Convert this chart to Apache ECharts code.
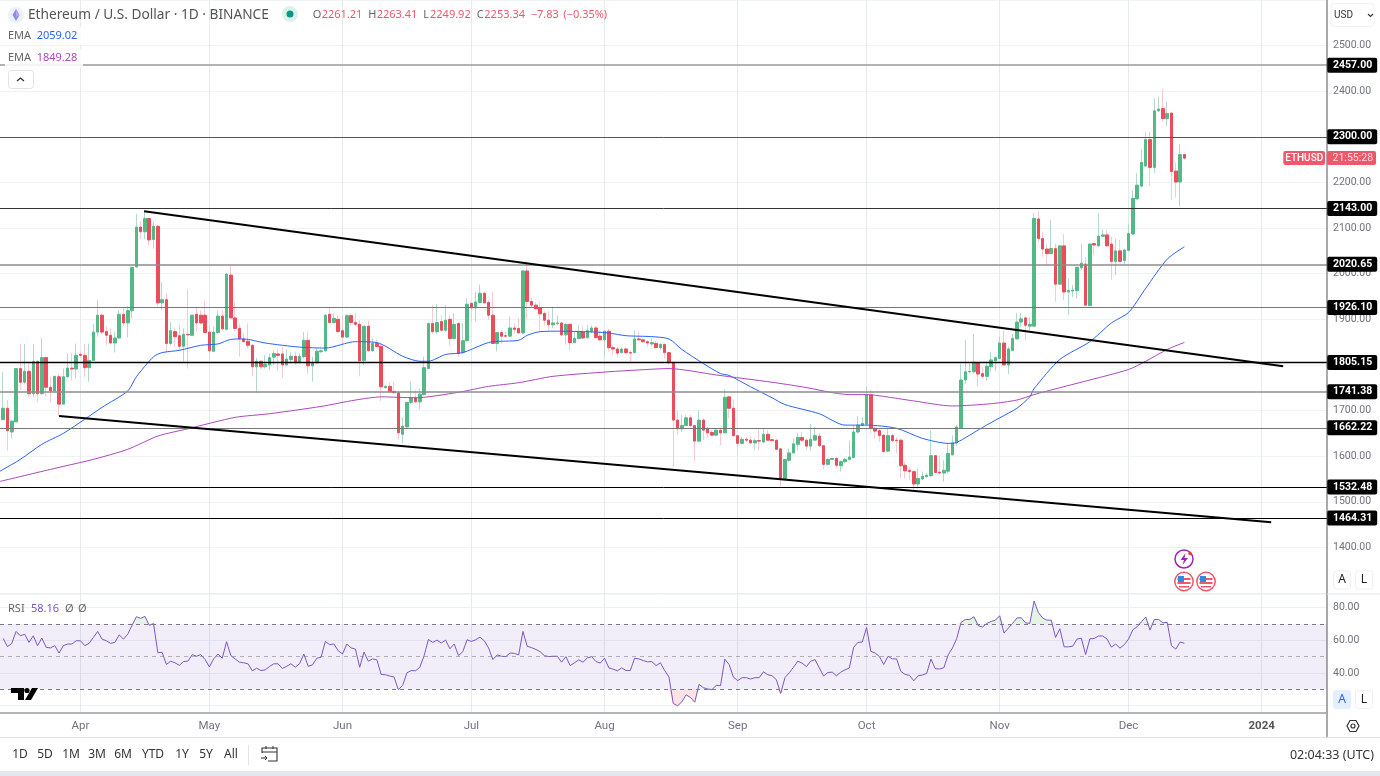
<!DOCTYPE html>
<html><head><meta charset="utf-8">
<style>html,body{margin:0;padding:0;background:#fff;overflow:hidden}#c{width:1380px;height:776px}</style>
<script src="https://cdn.jsdelivr.net/npm/echarts@6/dist/echarts.min.js"></script>
</head><body><div id="c"></div>
<script>
// ---------- data (first candle = 2023-03-14, one per day) ----------
const firstDay = Date.UTC(2023, 2, 14);
const opens = [
1680,1705,1653,1675,1792,1762,1786,1737,1807,1737,
1816,1751,1743,1774,1714,1774,1793,1791,1823,1821,
1794,1810,1872,1909,1873,1865,1848,1859,1911,1892,
1919,2015,2102,2092,2121,2075,2104,1936,1943,1847,
1873,1864,1841,1867,1865,1911,1909,1909,1872,1830,
1871,1907,1878,1997,1903,1880,1857,1852,1843,1796,
1808,1796,1800,1817,1824,1824,1800,1812,1819,1806,
1818,1854,1798,1805,1829,1831,1911,1893,1900,1875,
1861,1908,1893,1889,1810,1885,1831,1847,1841,1750,
1753,1742,1739,1648,1664,1718,1728,1719,1735,1792,
1891,1873,1895,1876,1900,1858,1891,
1827,1853,1935,1925,1937,1957,1937,1909,1847,1871,
1864,1863,1881,1880,1870,2006,1939,1931,1925,1913,
1898,1888,1891,1892,1866,1889,1849,1858,1872,1860,
1873,1881,1863,1855,1874,1838,1835,1827,1835,1827,
1827,1857,1855,1851,1846,1847,1838,1845,1827,1805,
1679,1660,1667,1684,1667,1633,1679,1661,1652,1646,
1657,1651,1730,1705,1645,1628,1637,1635,1629,1634,
1631,1648,1636,1635,1616,1550,1591,1607,1626,1641,
1635,1622,1635,1644,1623,1582,1593,1595,1579,1588,
1593,1597,1653,1667,1670,1734,1661,1656,1646,1611,
1645,1635,1635,1580,1569,1566,1539,1550,1555,1557,
1601,1565,1563,1567,1603,1629,1662,1767,1785,1785,
1804,1781,1775,1796,1809,1814,1848,1800,1832,1857,
1894,1903,1885,1885,2120,2077,2054,2044,2055,1977,
2061,1960,1962,1963,2013,2021,1930,2066,2061,2082,
2085,2065,2027,2050,2029,2051,2087,2164,2192,2236,
2294,2233,2357,2362,2340,2352,2225,2201,2261.21];
const highs = [
1784,1723,1677,1793,1846,1846,1803,1846,1810,1858,
1818,1774,1776,1781,1792,1825,1827,1847,1830,1846,
1847,1889,1942,1913,1884,1880,1873,1920,1928,1929,
2015,2131,2114,2140,2122,2114,2106,1981,1957,1895,
1882,1889,1880,1966,1909,1926,1920,1941,1887,1884,
1920,1920,2002,2020,1938,1891,1869,1891,1846,1816,
1810,1821,1825,1831,1834,1840,1834,1829,1829,1825,
1872,1873,1818,1836,1834,1911,1926,1913,1909,1909,
1911,1911,1913,1898,1885,1897,1858,1856,1847,1756,
1763,1763,1741,1685,1719,1764,1745,1748,1818,1892,
1931,1933,1909,1931,1909,1913,1892,
1891,1946,1939,1960,1976,1960,1942,1960,1871,1876,
1873,1906,1891,1904,2008,2028,1947,1938,1938,1917,
1918,1928,1909,1894,1891,1891,1873,1887,1884,1887,
1887,1885,1876,1876,1879,1843,1840,1838,1838,1832,
1876,1873,1858,1854,1858,1853,1847,1847,1829,1807,
1699,1690,1690,1690,1668,1701,1683,1664,1657,1661,
1661,1746,1732,1724,1646,1642,1642,1644,1639,1661,
1661,1657,1638,1636,1617,1593,1617,1639,1651,1653,
1639,1670,1664,1651,1624,1595,1595,1597,1591,1597,
1634,1668,1688,1686,1752,1745,1664,1659,1647,1662,
1650,1642,1637,1588,1577,1569,1573,1566,1563,1657,
1602,1602,1591,1628,1646,1668,1802,1854,1803,1868,
1805,1796,1808,1829,1818,1862,1875,1840,1868,1914,
1914,1907,1904,2132,2137,2092,2066,2118,2066,2063,
2087,1990,1975,2015,2066,2037,2066,2067,2132,2096,
2096,2081,2077,2074,2055,2110,2183,2220,2273,2310,
2311,2384,2388,2405,2377,2355,2244,2284,2263.41];
const lows = [
1679,1612,1639,1675,1745,1759,1730,1730,1718,1734,
1730,1717,1739,1688,1714,1772,1766,1770,1815,1774,
1763,1809,1862,1867,1843,1846,1827,1858,1885,1860,
1902,2012,2076,2076,2061,2055,1929,1920,1827,1843,
1840,1830,1808,1792,1864,1873,1889,1870,1811,1828,
1869,1876,1876,1903,1874,1818,1850,1836,1775,1739,
1791,1792,1789,1800,1787,1772,1798,1803,1800,1803,
1814,1781,1763,1802,1826,1829,1889,1891,1871,1845,
1859,1887,1885,1775,1800,1830,1829,1839,1721,1748,
1739,1737,1636,1628,1663,1714,1718,1703,1733,1791,
1868,1867,1873,1873,1843,1856,1818,
1824,1851,1895,1895,1936,1935,1898,1846,1830,1846,
1860,1862,1869,1869,1869,1900,1927,1922,1876,1887,
1876,1880,1887,1863,1845,1831,1847,1856,1857,1856,
1870,1858,1853,1818,1829,1822,1818,1825,1824,1803,
1825,1854,1847,1840,1841,1836,1832,1814,1800,1577,
1646,1653,1666,1664,1590,1631,1635,1639,1645,1644,
1624,1650,1683,1642,1602,1627,1631,1626,1613,1613,
1629,1634,1633,1614,1533,1547,1588,1606,1613,1631,
1613,1612,1634,1620,1571,1580,1592,1573,1566,1584,
1590,1595,1650,1666,1668,1650,1639,1631,1608,1610,
1631,1606,1551,1551,1547,1526,1529,1547,1553,1555,
1562,1558,1544,1563,1601,1622,1661,1758,1781,1781,
1752,1770,1765,1785,1786,1813,1799,1780,1831,1856,
1884,1854,1876,1884,2070,2037,2019,2043,1938,1975,
1942,1909,1949,1946,2008,1929,1929,2041,2059,2081,
2059,1987,1997,2025,2021,2050,2085,2163,2191,2234,
2192,2221,2355,2333,2324,2161,2167,2148,2249.92];
const closes = [
1705,1656,1677,1792,1762,1786,1737,1807,1737,1816,
1751,1743,1775,1714,1774,1793,1791,1821,1821,1794,
1810,1872,1909,1872,1865,1848,1859,1911,1892,1919,
2014,2102,2092,2121,2074,2104,1936,1943,1847,1875,
1862,1841,1867,1866,1909,1892,1892,1871,1831,1872,
1907,1879,1999,1903,1880,1857,1851,1843,1796,1808,
1796,1801,1816,1825,1821,1800,1813,1819,1805,1819,
1854,1798,1805,1830,1831,1909,1893,1902,1873,1861,
1908,1893,1889,1809,1885,1831,1847,1840,1752,1753,
1741,1739,1651,1666,1718,1728,1719,1736,1794,1891,
1873,1893,1876,1898,1858,1889,1825,
1853,1933,1925,1938,1957,1936,1909,1847,1871,1863,
1863,1881,1878,1870,2006,1939,1931,1923,1912,1898,
1888,1892,1892,1866,1889,1849,1858,1872,1859,1875,
1881,1860,1855,1874,1838,1835,1826,1835,1827,1826,
1857,1855,1851,1848,1849,1838,1845,1827,1805,1679,
1660,1667,1684,1667,1633,1679,1657,1651,1646,1657,
1651,1729,1705,1645,1628,1637,1635,1629,1634,1633,
1648,1635,1634,1615,1549,1593,1607,1627,1641,1635,
1622,1637,1645,1623,1582,1593,1595,1580,1588,1593,
1598,1653,1668,1672,1735,1661,1655,1645,1610,1645,
1634,1634,1579,1568,1566,1539,1551,1556,1558,1601,
1564,1563,1569,1606,1629,1664,1767,1785,1786,1804,
1780,1775,1797,1811,1816,1848,1800,1835,1858,1894,
1901,1887,1889,2121,2077,2054,2044,2055,1977,2061,
1960,1963,1964,2014,2023,1931,2065,2063,2082,2085,
2061,2027,2050,2027,2052,2088,2165,2194,2244,2294,
2233,2357,2361,2340,2351,2224,2201,2261,2253.34];
// EMAs, read at the days listed (day number counted from the first candle)
const emaFastDays = [-1,0,4,9,14,19,23,29,31,35,37,41,46,50,53,56,61,69,75,82,87,93,97,99,103,107,112,114,120,122,125,130,138,141,145,151,155,158,163,167,169,174,179,182,190,196,201,208,214,220,222,228,232,236,239,240,246,253,258,262,266,271,275];
const emaFast = [1566,1571,1593,1626,1650,1681,1707,1743,1774,1818,1827,1832,1843,1846,1856,1857,1848,1839,1837,1851,1849,1819,1808,1808,1823,1827,1846,1851,1854,1865,1873,1874,1872,1870,1864,1862,1857,1834,1803,1781,1777,1752,1728,1713,1693,1668,1668,1661,1639,1628,1630,1663,1684,1705,1730,1748,1812,1851,1892,1915,1968,2032,2059.02];
const emaSlowDays = [-1,11,21,29,36,43,54,62,74,82,88,96,106,113,120,128,141,148,155,166,179,186,197,201,205,212,221,230,236,240,246,253,262,266,271,275];
const emaSlow = [1544,1571,1593,1615,1644,1660,1685,1693,1709,1723,1730,1728,1740,1753,1761,1775,1785,1789,1792,1778,1762,1752,1735,1735,1731,1721,1710,1715,1723,1735,1750,1767,1790,1808,1834,1849.28];
const rsiValues = [
61.1,56.1,58.1,65.4,62.7,63.7,58.7,62.7,56.7,61.3,55.7,55.3,56.7,52.2,56.7,57.7,57.7,59.7,59.7,56.7,
58.1,61.7,65.4,60.7,59.7,58.1,58.7,63.3,60.7,63.7,69.2,74.4,73.4,74.6,69.2,70.2,52.4,52.6,45.2,47.2,
46.2,44.7,47,47.2,51.2,50.2,51.2,48.2,43.7,48.6,51.6,49,59.1,50.6,48.6,46.6,46.2,45.6,41.3,42.9,
41.5,41.9,43.9,45.6,45.6,42.7,44.1,45.6,43.5,45.6,51.6,44.1,44.9,49,49.6,59.3,57.3,57.7,53.6,51.6,
57.7,55.3,54.6,43.5,52.8,47.2,48.6,48,39.1,38.9,38.1,37.5,29.8,32.4,40.1,41.5,41.3,43.5,50.6,60.5,
58.7,60.1,58.3,60.1,54.8,57.7,50.6,53,60.3,59.3,60.3,61.9,59.7,55.3,48.2,51,50.2,50,52.2,52,
51,65.4,56.3,55.5,54.4,53,50.6,50,50.2,50.2,46.6,50,44.5,46.2,48,46.6,49.2,50,47,46,
49,43.1,42.3,41.3,43.1,41.5,41.5,49,48.6,47.6,46.8,47,44.5,46.2,41.5,37.5,21.3,19.9,22.3,26.6,
25,22.1,33,31,30.2,29.8,32.4,32.2,48.4,45.2,37.5,35.3,37.1,37.1,36.3,37.1,37.1,40.7,38.9,38.3,
35.9,27.4,37.1,40.1,43.5,47.2,46,43.9,47.2,48.2,43.1,38.1,40.3,40.5,38.3,40.5,41.9,43.1,55.7,58.7,
58.9,67.8,53.2,52.2,50,45.2,50.2,48.6,48.6,40.9,39.1,38.5,35.2,38.3,38.7,39.7,48.5,42.6,42.4,43.2,
51.1,55.2,61.1,70.9,72.7,72.7,74.4,68.9,68.1,70.3,71.5,72.3,75,64.4,67.4,70.3,73.6,73.8,70.7,70.3,
84,77,73.6,72.3,72.3,61.7,67,56,56,56.4,60.7,61.3,51.3,60.9,61.1,62.6,62.6,60.7,55.8,57.7,
55.2,57.3,60.7,66.4,68.3,71.3,74.2,66.2,72.7,72.7,70.7,70.9,56.6,54.6,58.9,58.16];
const levels = [2457,2300,2143,2020.65,1926.10,1805.15,1741.38,1662.22,1532.48,1464.31];
const upperTrendDays = [32.8,298], upperTrendPrices = [2137,1797];
const lowerTrendDays = [13,295.2], lowerTrendPrices = [1688,1455];
const monthTicks = [[2023,3,'Apr'],[2023,4,'May'],[2023,5,'Jun'],[2023,6,'Jul'],[2023,7,'Aug'],[2023,8,'Sep'],[2023,9,'Oct'],[2023,10,'Nov'],[2023,11,'Dec'],[2024,0,'2024']];
const priceTicks = [1400,1500,1600,1700,1800,1900,2000,2100,2200,2300,2400,2500];
const rangeButtons = ['1D','5D','1M','3M','6M','YTD','1Y','5Y','All'];

// ---------- styling ----------
const DAY = 864e5, UP = '#53B987', DOWN = '#EB4D5C', UPW = '#B3D8CE', DOWNW = '#F8CAD0';
const FONT = '"Noto Sans", sans-serif', AXF = 'Roboto, sans-serif';
const RED = '#F0586A', GREY = '#5D606B', AXC = '#707380';
const levelColors = ['#9a9a9a','#555','#333','#8c8c8c','#777','#000','#8c8c8c','#777','#000','#000'];
const levelWidths = [1.5,1,1,1.5,1.2,1.3,1.5,1.2,1,1];
// the x axis counts days from the first candle
const tickDays = monthTicks.map(m => Math.round((Date.UTC(m[0], m[1], 1) - firstDay) / DAY));
const tickName = {}; monthTicks.forEach((m,i)=>tickName[tickDays[i]] = m[2]);
const xMin = -0.745, xMax = 308.2;

function xAxis(idx, labels){
  return {type:'value', gridIndex:idx, min:xMin, max:xMax, scale:true,
    axisLine:{show:false}, axisTick:{show:false, customValues:tickDays},
    splitLine:{show:true, lineStyle:{color:'#E3EBF1', width:1}},
    axisLabel:{show:labels, customValues:tickDays, margin:7, fontFamily:AXF, fontSize:11.5, color:AXC,
      hideOverlap:false,
      formatter:v=>{const n=tickName[Math.round(+v)]||''; return n==='2024'?'{b|2024}':n;},
      rich:{b:{fontWeight:'bold',fontSize:11.5,color:'#555',fontFamily:AXF}}}};
}
const series = [
 {type:'candlestick', xAxisIndex:0, yAxisIndex:0, barWidth:1, silent:true, z:2,
  itemStyle:{color:UPW,color0:DOWNW,borderColor:UPW,borderColor0:DOWNW,borderWidth:1},
  data:opens.map((o,i)=>[i,o,closes[i],lows[i],highs[i]])},
 {type:'candlestick', xAxisIndex:0, yAxisIndex:0, barWidth:3, silent:true, z:3,
  itemStyle:{color:UP,color0:DOWN,borderColor:UP,borderColor0:DOWN,borderWidth:1},
  data:opens.map((o,i)=>[i,o,closes[i],Math.min(o,closes[i]),Math.max(o,closes[i])])},
 {type:'line', xAxisIndex:0, yAxisIndex:0, showSymbol:false, silent:true, z:4, smooth:0.25, lineStyle:{color:'#2962FF',width:1},
  data:emaFastDays.map((d,i)=>[d,emaFast[i]])},
 {type:'line', xAxisIndex:0, yAxisIndex:0, showSymbol:false, silent:true, z:4, smooth:0.25, lineStyle:{color:'#AB47BC',width:1},
  data:emaSlowDays.map((d,i)=>[d,emaSlow[i]])},
 {type:'line', xAxisIndex:0, yAxisIndex:0, showSymbol:false, silent:true, z:5, lineStyle:{color:'#000',width:2},
  data:upperTrendDays.map((d,i)=>[d,upperTrendPrices[i]]),
  markLine:{silent:true, symbol:'none', animation:false, z:5,
    data:levels.map((v,i)=>({yAxis:v, lineStyle:{color:levelColors[i],width:levelWidths[i],type:'solid'},
      label:{show:true, position:'end', distance:0, formatter:()=>v.toFixed(2), color:'#fff', backgroundColor:'#000',
        fontFamily:AXF, fontSize:10.5, fontWeight:'bold', padding:[3,5,1,6], borderRadius:2}}))}},
 {type:'line', xAxisIndex:0, yAxisIndex:0, showSymbol:false, silent:true, z:5, lineStyle:{color:'#000',width:2},
  data:lowerTrendDays.map((d,i)=>[d,lowerTrendPrices[i]])},
 // RSI
 {type:'line', xAxisIndex:1, yAxisIndex:1, showSymbol:false, silent:true, z:3, lineStyle:{width:0},
  areaStyle:{origin:70,color:'rgba(76,175,80,.22)'},
  data:rsiValues.map((v,i)=>[i,Math.max(v,70)])},
 {type:'line', xAxisIndex:1, yAxisIndex:1, showSymbol:false, silent:true, z:3, lineStyle:{width:0},
  areaStyle:{origin:30,color:'rgba(242,54,69,.2)'},
  data:rsiValues.map((v,i)=>[i,Math.min(v,30)])},
 {type:'line', xAxisIndex:1, yAxisIndex:1, showSymbol:false, silent:true, z:4, lineStyle:{color:'#7E57C2',width:1},
  data:rsiValues.map((v,i)=>[i,v]),
  markArea:{silent:true, animation:false, itemStyle:{color:'rgba(126,87,194,.1)'}, data:[[{yAxis:70},{yAxis:30}]]},
  markLine:{silent:true, symbol:'none', animation:false, label:{show:false},
    data:[{yAxis:70,lineStyle:{color:'#787B86',type:[4,4],width:1}},
          {yAxis:50,lineStyle:{color:'rgba(120,123,134,.55)',type:[4,4],width:1}},
          {yAxis:30,lineStyle:{color:'#787B86',type:[4,4],width:1}}]}}
];

// ---------- interface furniture ----------
const G = [];
const txt = (x,y,t,o={}) => G.push({type:'text',x,y:y+1,z:o.z||50,silent:true,style:{text:t,fill:o.c||GREY,
  font:(o.w||'normal')+' '+(o.s||12)+'px '+(o.f||FONT),textAlign:o.a||'left',textVerticalAlign:'middle'}});
const rect = (x,y,w,h,f,o={}) => G.push({type:'rect',z:o.z||40,silent:true,shape:{x,y,width:w,height:h,r:o.r||0},
  style:{fill:f,stroke:o.st||null,lineWidth:o.lw||1}});
const line = (x1,y1,x2,y2,c,w=1,z=45) => G.push({type:'line',z,silent:true,shape:{x1,y1,x2,y2},style:{stroke:c,lineWidth:w}});
const circ = (cx,cy,r,f,o={}) => G.push({type:'circle',z:o.z||41,silent:true,shape:{cx,cy,r},style:{fill:f,stroke:o.st||null,lineWidth:o.lw||1}});
const poly = (pts,f,z=46) => G.push({type:'polygon',z,silent:true,shape:{points:pts},style:{fill:f}});

// right scale column + bottom bars
line(1327,0,1327,737,'#555',1);
line(0,594,1327,594,'#E6E9F0',1,6);
line(0,713,1327,713,'#9A9DA5',1.5);
line(0,737.5,1380,737.5,'#E0E3EB',1);
line(1327,594,1380,594,'#E0E3EB',1);
rect(0,771,1380,5,'#E3E6EE',{z:45});
// legend
circ(16,15,8,'#EEF1F8',{z:48});
poly([[16,9],[19.5,15],[16,21],[12.5,15]],'#8E8CE8',49);
poly([[16,9],[19.5,15],[16,17]],'#B7A6F0',49);
txt(28,14,'Ethereum / U.S. Dollar · 1D · BINANCE',{s:13.7,c:'#555'});
circ(290,14,8,'#DDF2EC',{z:48}); circ(290,14,3.5,'#089981',{z:49});
[['O','2261.21',312.7,321.7],['H','2263.41',368.3,376.7],['L','2249.92',423.3,430],['C','2253.34',476.7,484.3]].forEach(a=>{
  txt(a[2],14,a[0],{s:11,c:'#666'}); txt(a[3],14,a[1],{s:11,c:RED});});
txt(530.7,14,'−7.83',{s:11,c:RED}); txt(563.3,14,'(−0.35%)',{s:11,c:RED});
rect(5,27,78,18,'rgba(255,255,255,.85)',{z:44}); rect(5,49,78,18,'rgba(255,255,255,.85)',{z:44});
txt(8,35,'EMA',{s:11,c:'#666'}); txt(36.7,35,'2059.02',{s:11,c:'#2962FF'});
txt(8,57,'EMA',{s:11,c:'#666'}); txt(36.7,57,'1849.28',{s:11,c:'#AB47BC'});
rect(8.5,70.5,25,18,'#fff',{st:'#E0E3EB',r:3,z:44});
G.push({type:'polyline',z:46,silent:true,shape:{points:[[17,81],[20.5,78],[24,81]]},style:{stroke:'#333',lineWidth:1.3,fill:null}});
txt(8,608,'RSI',{s:11,c:'#666'}); txt(31,608,'58.16',{s:11,c:'#7E57C2'});
txt(65,608,'Ø',{s:11,c:'#666'}); txt(78,608,'Ø',{s:11,c:'#666'});
// watermark logo
poly([[11,688],[24,688],[24,700],[18,700],[18,693],[11,693]],'#000');
circ(27,690.5,2.6,'#000',{z:46});
poly([[32,688],[38,688],[31,700],[25,700]],'#000');
// scale widgets
rect(1331,3.5,43,23,'#fff',{st:'#EEF0F4',r:4});
txt(1334,14,'USD',{s:10,c:'#333',f:AXF});
G.push({type:'polyline',z:46,silent:true,shape:{points:[[1368,14],[1370.5,16.5],[1373,14]]},style:{stroke:'#333',lineWidth:1.1,fill:null}});
rect(1333.5,571,17,18,'#fff',{st:'#EDEFF3',r:3}); txt(1342,579,'A',{s:12,c:'#222',a:'center'});
rect(1355.5,571,17,18,'#fff',{st:'#EDEFF3',r:3}); txt(1364,579,'L',{s:12,c:'#222',a:'center'});
rect(1333,690,18,19,'#E3EEFF',{r:3}); txt(1342,698.5,'A',{s:12,c:'#2962FF',a:'center'});
rect(1355.5,690.5,17,18,'#fff',{st:'#EDEFF3',r:3}); txt(1364,698.5,'L',{s:12,c:'#222',a:'center'});
// gear
G.push({type:'polygon',z:46,silent:true,shape:{points:[[1347,726],[1350,720.5],[1356,720.5],[1359,726],[1356,731.5],[1350,731.5]]},style:{fill:'#fff',stroke:'#333',lineWidth:1.2}});
circ(1353,726,2,'#fff',{st:'#333',lw:1.2,z:47});
// price tag
rect(1283.3,151,41.7,14,RED,{r:2,z:60}); txt(1304.2,157.5,'ETHUSD',{s:10,c:'#fff',a:'center',z:61,w:'500',f:AXF});
rect(1327,151,49,14,RED,{r:2,z:60}); txt(1352.8,157.5,'21:55:28',{s:10.5,c:'#FFDDE0',a:'center',z:61,f:AXF});
// events
circ(1184,559,9,'#fff',{st:'#9C27B0',lw:1.5,z:30});
poly([[1185.5,553],[1180.5,560],[1184,560],[1182.5,565],[1188,558],[1184.5,558]],'#9C27B0',31);
circ(1190,553.5,1.7,'#F23645',{z:32});
[1184,1206].forEach(cx=>{
  circ(cx,581.5,9.2,'#fff',{st:'#F0586A',lw:1.5,z:30});
  rect(cx-6.5,578,13,2,'#F0586A',{z:31}); rect(cx-6.5,582,13,2,'#F0586A',{z:31}); rect(cx-5,586,10,1.5,'#F0586A',{z:31});
  rect(cx-6,576,6,6,'#2F8CDC',{z:32});
});
// time range buttons
const btnX=[20,45,71,97,123,153,182,206,231];
rangeButtons.forEach((b,i)=>txt(btnX[i],754,b,{s:12,c:'#333',a:'center'}));
line(248.5,745,248.5,765,'#E0E3EB',1);
G.push({type:'polyline',z:46,silent:true,shape:{points:[[262,753],[262,748],[277,748],[277,761],[268,761]]},style:{stroke:'#333',lineWidth:1.1,fill:null}});
line(262,752,277,752,'#333',1);line(266,746,266,749,'#333',1);line(273,746,273,749,'#333',1);
line(261,758,267,758,'#333',1);
G.push({type:'polyline',z:46,silent:true,shape:{points:[[265,756],[267,758],[265,760]]},style:{stroke:'#333',lineWidth:1,fill:null}});
txt(1374,754,'02:04:33 (UTC)',{s:12.5,c:'#333',a:'right'});

const chart = echarts.init(document.getElementById('c'),null,{renderer:'canvas',width:1380,height:776});
chart.setOption({
  animation:false, backgroundColor:'#fff',
  grid:[{left:0,top:0,width:1327,height:593,containLabel:false},{left:0,top:594,width:1327,height:119,containLabel:false}],
  xAxis:[xAxis(0,false),xAxis(1,true)],
  yAxis:[
   {type:'value',gridIndex:0,position:'right',min:1300,max:2600,scale:true,
    axisLine:{show:false},axisTick:{show:false,customValues:[1300,...priceTicks,2600]},
    splitLine:{show:true,lineStyle:{color:'#F0F3F6'}},
    axisLabel:{customValues:priceTicks,margin:6,fontFamily:AXF,fontSize:10.5,color:AXC,formatter:v=>(+v).toFixed(2)}},
   {type:'value',gridIndex:1,position:'right',min:15.5,max:88.3,scale:true,
    axisLine:{show:false},axisTick:{show:false,customValues:[20,40,60,80]},
    splitLine:{show:true,lineStyle:{color:'#EDF1F5'}},
    axisLabel:{customValues:[40,60,80],margin:6,fontFamily:AXF,fontSize:10.5,color:AXC,formatter:v=>(+v).toFixed(2)}}],
  series, graphic:{elements:G}
});
</script></body></html>
